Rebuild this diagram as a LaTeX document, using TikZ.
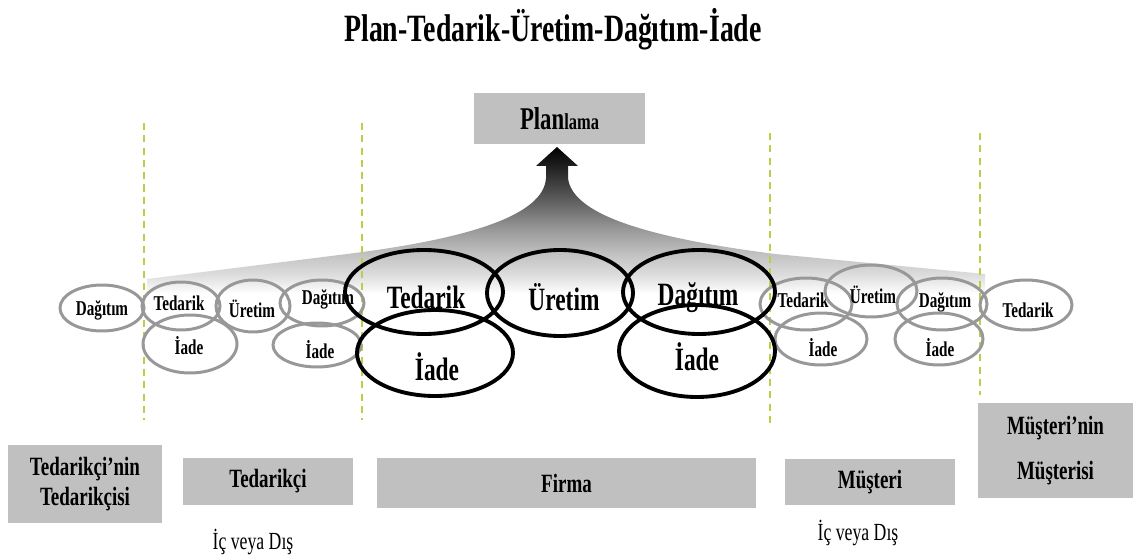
\documentclass[tikz,border=0pt]{standalone}
\usepackage{fontspec}
\setmainfont[FakeStretch=0.72]{Liberation Serif}
\usepackage{tikz}
\usetikzlibrary{positioning}
\usetikzlibrary{shapes.geometric}
\definecolor{ringgray}{RGB}{152,152,152}
\definecolor{boxgray}{RGB}{192,192,192}
\definecolor{sepgreen}{RGB}{190,205,70}
\pgfdeclareverticalshading{fanshade}{100bp}{color(0bp)=(white); color(27bp)=(white); color(33bp)=(black!13); color(40bp)=(black!24); color(48bp)=(black!40); color(58bp)=(black!64); color(68bp)=(black!86); color(75bp)=(black); color(100bp)=(black)}
\tikzstyle{ring}=[ellipse,draw=ringgray,line width=1.7pt,inner sep=0pt]
\tikzstyle{bigring}=[ellipse,draw=black,line width=2.2pt,inner sep=0pt]
\tikzstyle{ringtext}=[font=\fontsize{12}{14}\selectfont\bfseries,inner sep=0pt]
\tikzstyle{bigtext}=[font=\fontsize{18.5}{22}\selectfont\bfseries,inner sep=0pt]
\tikzstyle{stage}=[fill=boxgray,inner sep=0pt,align=center,font=\fontsize{15}{17.5}\selectfont\bfseries]
\tikzstyle{sidenote}=[font=\fontsize{14}{16}\selectfont,inner sep=0pt]
\tikzstyle{sepline}=[draw=sepgreen,line width=0.8pt,dash pattern=on 4pt off 3pt]

\begin{document}
\begin{tikzpicture}[x=0.02cm,y=-0.02cm]

  \def\u{0.02cm};
  \useasboundingbox (0,0) rectangle (1136,557);

  \node[font=\fontsize{22}{26}\selectfont\bfseries, anchor=base] (title) at (553,42) {Plan-Tedarik-Üretim-Dağıtım-İade};

  % shaded fan rising into the arrow
  \shade[shading=fanshade] (557,147) -- (578,166) -- (568,166) -- (568,178)
     .. controls (572,215) and (650,238) .. (775,254) -- (985,274) -- (985,300)
     -- (147,300) -- (147,279) -- (355,253)
     .. controls (470,238) and (544,215) .. (546,178)
     -- (546,166) -- (536,166) -- cycle;

  \node[stage, minimum width=171*\u, minimum height=51*\u] (plan) at (559.5,118.5)
     {{\fontsize{18}{21}\selectfont Plan}{\fontsize{13}{15}\selectfont lama}};

  \foreach \x/\top/\bot in {144/123/420, 362/123/420, 770/133/425, 980/133/395}
     \draw[sepline] (\x,\top) -- (\x,\bot);

  % outer links
  \foreach \x/\y/\rx/\ry/\tx/\ty/\name/\label in {
       102/308/42/23/102/310/lDag/Dağıtım, 181/306/39/24/179/303/lTed/Tedarik,
       190/344/47/29/189/346/lIade/İade, 253/306/37/26/252/309/lUre/Üretim,
       322/303/42/23/328/299/lDagB/Dağıtım, 317/345/44/22/320/350/lIadeB/İade,
       806/304/46/26/803/300/rTed/Tedarik, 871/291/46/26/873/295/rUre/Üretim,
       942/304/45/26/945/302/rDag/Dağıtım, 821/339/46/26/823/348/rIade/İade,
       939/339/44/26/940/348/rIadeB/İade, 1026/305/46/25/1028/310/rTedB/Tedarik}
  {
     \node[ring, minimum width=2*\rx*\u, minimum height=2*\ry*\u] (\name) at (\x,\y) {};
     \node[ringtext] (\name-t) at (\tx,\ty) {\label};
  }

  % the firm itself
  \foreach \x/\y/\rx/\ry/\tx/\ty/\name/\label in {
       424/292/79/42/426/297/fTed/Tedarik, 560/293/73/43/564/297/fUre/Üretim,
       699/292/76/42/698/298/fDag/Dağıtım, 435/353/78/43/437/367/fIade/İade,
       697/351/78/46/697/357/fIadeB/İade}
  {
     \node[bigring, minimum width=2*\rx*\u, minimum height=2*\ry*\u] (\name) at (\x,\y) {};
     \node[bigtext] (\name-t) at (\tx,\ty) {\label};
  }

  \foreach \x/\y/\w/\h/\name/\label in {
       85/484/154/78/tt/{Tedarikçi’nin\\Tedarikçisi}, 268/481.5/170/47/t/Tedarikçi,
       566.5/483/379/50/firma/Firma, 870/482/170/46/m/Müşteri,
       1055.5/450.5/155/95/mm/{Müşteri’nin\\[8pt]Müşterisi}}
     \node[stage, minimum width=\w*\u, minimum height=\h*\u] (\name) at (\x,\y) {\label};

  \node[sidenote] (icA) at (253,542) {İç veya Dış};
  \node[sidenote] (icB) at (858,533) {İç veya Dış};

\end{tikzpicture}
\end{document}
